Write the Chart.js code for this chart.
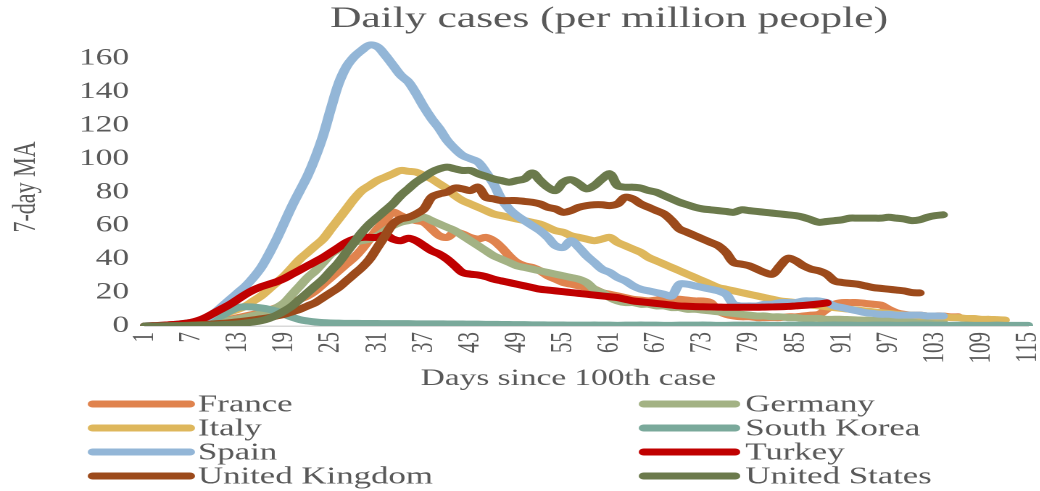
<!DOCTYPE html>
<html>
<head>
<meta charset="utf-8">
<script src="https://cdn.jsdelivr.net/npm/chart.js@4.4.1/dist/chart.umd.min.js"></script>
<style>
    html, body { margin: 0; padding: 0; background: #fff; overflow: hidden; }
    #wrap { position: absolute; left: 0; top: 0; width: 736px; height: 491px; transform: scaleX(1.45); transform-origin: 0 0; }
</style>
</head>
<body>
<div id="wrap"><canvas id="cases"></canvas></div>
<script>
'use strict';

// days since the 100th case, 1..115
const days = Array.from({ 'length': 115 }, (_, i) => String(i + 1));
const shownTicks = ['1', '7', '13', '19', '25', '31', '37', '43', '49', '55', '61', '67', '73', '79', '85', '91', '97', '103', '109', '115'];
const countries = ['France', 'Germany', 'Italy', 'South Korea', 'Spain', 'Turkey', 'United Kingdom', 'United States'];
const colours = ['#E0834E', '#A3B284', '#DEB75C', '#7AA99B', '#93B6D7', '#C00000', '#9C4A1B', '#6B7A4C'];

// 7-day moving average of daily cases per million
const france = [0, 0.1, 0.2, 0.4, 0.6, 0.9, 1.2, 1.6, 2, 2.6,
    3.2, 4, 5, 6, 7, 8, 9.5, 11, 12.5, 14,
    16, 18, 21, 25, 29, 33, 37, 41, 46, 52,
    58, 63, 68, 66, 64, 63, 62, 58, 54, 53,
    56, 55, 53, 52, 53, 51, 47, 42, 38, 36,
    35, 33, 30, 28, 26, 25, 24, 23, 22, 20,
    19, 18, 17, 16, 15.5, 15, 15.5, 16, 16, 16,
    15.5, 15, 15, 14, 9, 7, 6, 5.5, 5.5, 5,
    5, 5, 5, 5.5, 5.5, 6, 6.5, 7, 10, 13,
    14, 14, 14, 13.5, 13, 12.5, 10, 8, 7, 6.5,
    6.5, 6, 6, 6, 5.5, 5.5];
const germany = [0, 0.1, 0.2, 0.3, 0.5, 0.7, 1, 1.3, 1.7, 2.2,
    2.8, 3.5, 4.3, 5.2, 6.3, 7.5, 9, 11, 14, 19,
    24, 29, 33, 38, 43, 46, 48, 50, 51, 52,
    54, 57, 60, 62, 63, 64, 65, 63, 61, 59,
    57, 54, 51, 48, 45, 42, 40, 38, 36, 35,
    34, 33, 32, 31, 30, 29, 28, 26, 22, 20,
    17, 15, 14, 14, 13, 13, 12, 12, 11, 11,
    10, 10, 9.5, 9, 8.5, 8, 7.5, 7, 6.5, 6,
    6, 5.5, 5.5, 5, 5, 4.5, 4.5, 4.5, 4, 4,
    4, 3.8, 3.6, 3.5, 3.4, 3.3, 3.2, 3.1, 3, 3,
    2.9, 2.8, 2.8, 2.7];
const italy = [0, 0.2, 0.4, 0.6, 1, 1.5, 2.2, 3, 4, 5.5,
    7, 8.5, 10, 12, 15, 18, 22, 26, 30, 35,
    40, 44, 48, 52, 58, 64, 70, 76, 81, 84,
    87, 89, 91, 93, 92.5, 92, 90, 88, 85, 82,
    78, 75, 73, 71, 69, 67, 66, 65, 64, 63,
    62, 61, 59, 57, 56, 54, 53, 52, 51, 52,
    53, 50, 48, 46, 44, 41, 39, 37, 35, 33,
    31, 29, 27, 25, 23, 22, 21, 20, 19, 18,
    17, 16, 15, 14.5, 14, 13, 12.5, 12, 11.5, 11,
    10.5, 10, 9.5, 9, 8.5, 8, 7.5, 7, 6.5, 6.5,
    6, 6, 5.5, 5.5, 5, 5, 4.5, 4.5, 4, 4,
    3.8, 3.6];
const southKorea = [0, 0.1, 0.2, 0.4, 0.7, 1.2, 1.8, 2.5, 3.2, 4.5,
    6.5, 9, 11, 11.5, 11.3, 10.8, 10, 8.8, 7, 5.2,
    3.8, 3, 2.4, 2, 1.8, 1.7, 1.6, 1.6, 1.5, 1.5,
    1.5, 1.4, 1.4, 1.4, 1.4, 1.3, 1.3, 1.3, 1.3, 1.2,
    1.2, 1.2, 1.1, 1.1, 1, 1, 0.9, 0.9, 0.8, 0.8,
    0.7, 0.7, 0.6, 0.6, 0.6, 0.5, 0.5, 0.5, 0.6, 0.5,
    0.5, 0.4, 0.5, 0.5, 0.6, 0.5, 0.5, 0.4, 0.4, 0.5,
    0.5, 0.5, 0.6, 0.5, 0.4, 0.4, 0.5, 0.5, 0.5, 0.6,
    0.5, 0.4, 0.4, 0.5, 0.5, 0.5, 0.5, 0.4, 0.5, 0.6,
    0.5, 0.5, 0.4, 0.4, 0.5, 0.5, 0.5, 0.4, 0.4, 0.5,
    0.5, 0.5, 0.4, 0.4, 0.4, 0.5, 0.5, 0.4, 0.4, 0.4,
    0.5, 0.4, 0.4, 0.4, 0.4];
const spain = [0.1, 0.2, 0.4, 0.6, 1, 1.5, 2.2, 3.2, 4.8, 8,
    12, 16, 20, 24, 29, 35, 43, 52, 62, 72,
    81, 90, 101, 114, 130, 145, 155, 161, 165, 168,
    167, 162, 156, 150, 146, 139, 131, 124, 118, 111,
    106, 102, 100, 98, 92, 85, 76, 70, 66, 63,
    60, 57, 53, 48, 47, 51, 47, 42, 38, 34,
    32, 29, 27, 24, 22, 21, 20, 19, 18, 25,
    25, 24, 23, 22, 21, 19, 13, 12, 12, 12,
    13, 13, 14, 14, 14, 15, 15, 15, 14, 12,
    11, 10, 9, 8, 7.5, 7, 7, 6.5, 6.5, 6.5,
    6.5, 6, 6, 6];
const turkey = [0, 0.2, 0.4, 0.7, 1, 1.5, 2.2, 3.5, 5.5, 8,
    10.5, 13, 16, 19, 21.5, 23.5, 25, 26.5, 28.5, 31,
    33.5, 36, 38.5, 41, 44, 47, 50, 52, 53, 53,
    53, 54.5, 52, 51, 52.5, 51, 48, 45, 43, 40,
    36, 32, 31, 30.5, 29.5, 28, 27, 26, 25, 24,
    23, 22, 21.5, 21, 20.5, 20, 19.5, 19, 18.5, 18,
    17.5, 17, 16, 15, 14.5, 14, 13.5, 13, 12.5, 12,
    11.8, 11.6, 11.5, 11.4, 11.3, 11.2, 11.2, 11.2, 11.2, 11.2,
    11.3, 11.4, 11.5, 11.7, 12, 12.3, 12.7, 13.2, 13.8];
const unitedKingdom = [0, 0.05, 0.1, 0.2, 0.3, 0.4, 0.6, 0.8, 1, 1.3,
    1.6, 2, 2.5, 3, 3.6, 4.3, 5, 6, 7, 8.5,
    10, 12, 14, 17, 20, 23, 27, 31, 35, 40,
    47, 54, 61, 64, 65, 67, 70, 77, 79, 80,
    82.5, 82, 81, 83, 77, 76, 75, 75, 75, 74.5,
    74, 73, 71, 70, 68, 69, 71, 72, 72.5, 72.5,
    72, 73, 77, 76, 73, 71, 69, 67, 63, 58,
    56, 54, 52, 50, 48, 44, 38, 37, 36, 34,
    32, 31, 36, 40.5, 39, 36, 34, 33, 31, 27,
    26, 25.5, 25, 24, 23, 22.5, 22, 21.5, 21, 20,
    19.8];
const unitedStates = [0, 0, 0.05, 0.1, 0.15, 0.2, 0.3, 0.4, 0.5, 0.6,
    0.8, 1, 1.3, 1.8, 2.4, 3.2, 4.5, 6.5, 9, 12,
    16, 20, 24, 28, 33, 38, 44, 50, 56, 61,
    65, 69, 73, 78, 82, 86, 89, 92, 94, 95,
    94, 93, 93, 91, 89.5, 88, 87, 86, 87, 88,
    91.5, 87, 83, 81, 86, 87.5, 85, 82, 84, 88,
    91, 84, 83, 83, 82.5, 81, 80, 78, 76, 74,
    72.5, 71, 70, 69.5, 69, 68.5, 68, 69.5, 69, 68.5,
    68, 67.5, 67, 66.5, 66, 65, 63.5, 62, 62.5, 63,
    63.5, 64.5, 64.5, 64.5, 64.5, 64.5, 65, 64.5, 64, 63,
    63.5, 65, 66, 66.5];

const series = [france, germany, italy, southKorea, spain, turkey, unitedKingdom, unitedStates];

const textColour = '#595959';
const serif = '"Liberation Serif", "Times New Roman", serif';

// title, axis titles and the two-column legend are drawn here
const textPlugin = {
    'id': 'texts',
    'afterDraw': function(chart) {
        const ctx = chart.ctx;
        ctx.save();
        ctx.fillStyle = textColour;
        ctx.textAlign = 'center';
        ctx.textBaseline = 'middle';
        ctx.font = '30px ' + serif;
        ctx.fillText('Daily cases (per million people)', 420, 19);
        ctx.font = '23px ' + serif;
        ctx.fillText('Days since 100th case', 392, 379);
        ctx.save();
        ctx.translate(18, 187);
        ctx.rotate(-Math.PI / 2);
        ctx.font = '22px ' + serif;
        ctx.fillText('7-day MA', 0, 0);
        ctx.restore();

        ctx.textAlign = 'left';
        ctx.font = '24px ' + serif;
        ctx.lineCap = 'round';
        ctx.lineWidth = 7;
        chart.data.datasets.forEach((ds, i) => {
            const col = i % 2;
            const row = Math.floor(i / 2);
            const y = 404 + row * 24;
            const x0 = col ? 444 : 64;
            const x1 = col ? 507 : 131;
            ctx.strokeStyle = ds.borderColor;
            ctx.beginPath();
            ctx.moveTo(x0, y);
            ctx.lineTo(x1, y);
            ctx.stroke();
            ctx.fillText(ds.label, col ? 514 : 136.5, y + 1);
        });
        ctx.restore();
    }
};

const ctx = document.getElementById('cases').getContext('2d');
const chart = new Chart(ctx, {
    'type': 'line',
    'data': {
        'labels': days,
        'datasets': countries.map((name, i) => ({
            'label': name,
            'data': series[i],
            'borderColor': colours[i],
            'backgroundColor': colours[i],
            'borderWidth': 7,
            'borderCapStyle': 'round',
            'borderJoinStyle': 'round',
            'pointRadius': 0,
            'tension': 0.35,
            'fill': false,
            'order': countries.length - i
        }))
    },
    'options': {
        'responsive': true,
        'maintainAspectRatio': false,
        'animation': false,
        'devicePixelRatio': 2,
        'layout': { 'padding': { 'top': 25, 'right': 0, 'bottom': 100, 'left': 0 } },
        'plugins': {
            'legend': { 'display': false },
            'tooltip': { 'enabled': false },
            'title': { 'display': false }
        },
        'scales': {
            'x': {
                'grid': { 'display': false, 'drawTicks': false },
                'border': { 'display': true, 'color': '#D9D9D9', 'width': 1.5 },
                'ticks': {
                    'autoSkip': false,
                    'maxRotation': 90,
                    'minRotation': 90,
                    'padding': 6,
                    'color': textColour,
                    'font': { 'family': serif, 'size': 21, 'lineHeight': 1 },
                    'callback': (value, index) => (shownTicks.includes(days[index]) ? days[index] : '')
                },
                'afterFit': (scale) => { scale.height = 65; }
            },
            'y': {
                'min': 0,
                'max': 180,
                'grid': { 'display': false, 'drawTicks': false },
                'border': { 'display': false },
                'ticks': {
                    'stepSize': 20,
                    'padding': 11,
                    'color': textColour,
                    'font': { 'family': serif, 'size': 23 },
                    'callback': (value) => (value === 180 ? '' : value)
                },
                'afterFit': (scale) => { scale.width = 100; }
            }
        }
    },
    'plugins': [textPlugin]
});
</script>
</body>
</html>
